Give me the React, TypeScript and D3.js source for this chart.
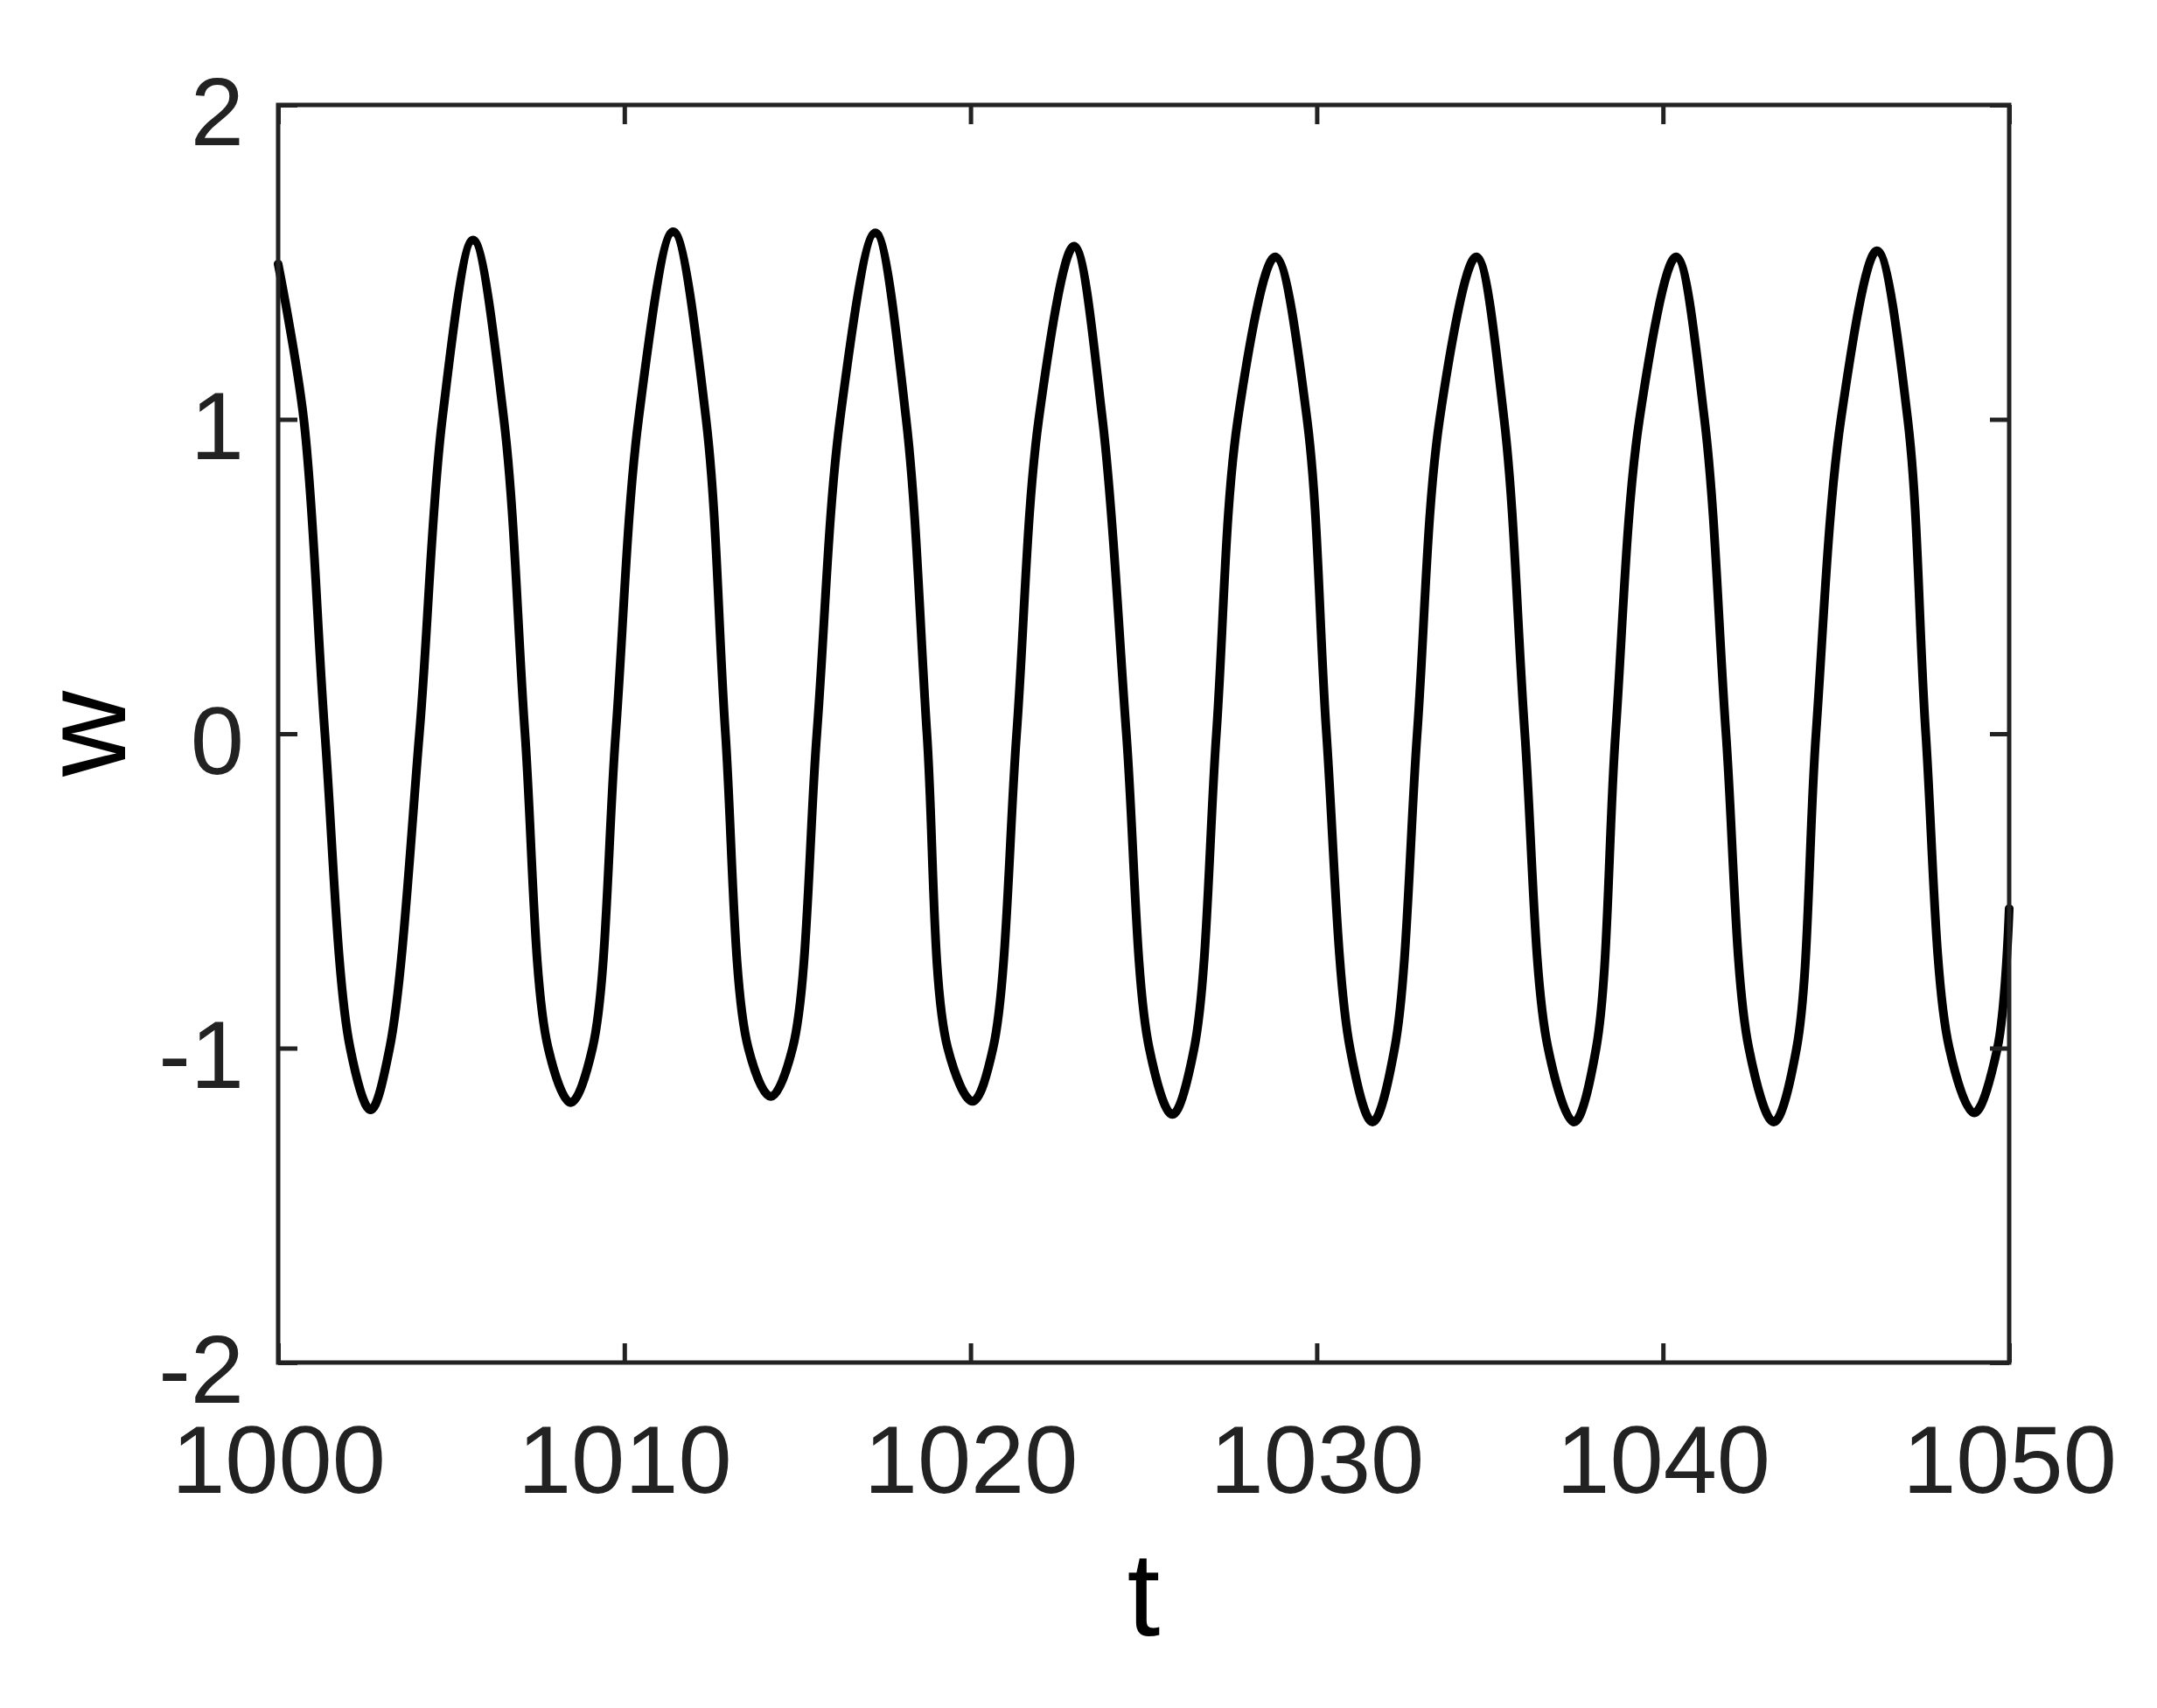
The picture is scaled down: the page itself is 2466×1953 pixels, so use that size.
import * as d3 from "d3";
import { useEffect, useRef } from "react";

// peaks, troughs and the crossings of w = 1, 0, -1
const tValues = [
  1000, 1000.74, 1001.35, 1002.08, 1002.67, 1003.22, 1004.08, 1004.74,
  1005.63, 1006.52, 1007.13, 1007.8, 1008.45, 1009.08, 1009.75, 1010.41,
  1011.41, 1012.36, 1012.92, 1013.58, 1014.23, 1014.86, 1015.56, 1016.23,
  1017.25, 1018.14, 1018.74, 1019.34, 1020.06, 1020.65, 1021.33, 1021.97,
  1022.99, 1023.81, 1024.5, 1025.16, 1025.83, 1026.46, 1027.1, 1027.72,
  1028.8, 1029.72, 1030.28, 1030.96, 1031.61, 1032.25, 1032.9, 1033.55,
  1034.61, 1035.41, 1036.01, 1036.68, 1037.43, 1038.07, 1038.63, 1039.32,
  1040.38, 1041.2, 1041.82, 1042.48, 1043.2, 1043.86, 1044.42, 1045.14,
  1046.18, 1047.07, 1047.59, 1048.27, 1048.99, 1049.66, 1050,
];
const wValues = [
  1.494, 1, 0, -1, -1.196, -1, 0, 1,
  1.57, 1, 0, -1, -1.173, -1, 0, 1,
  1.597, 1, 0, -1, -1.154, -1, 0, 1,
  1.593, 1, 0, -1, -1.169, -1, 0, 1,
  1.551, 1, 0, -1, -1.211, -1, 0, 1,
  1.517, 1, 0, -1, -1.235, -1, 0, 1,
  1.517, 1, 0, -1, -1.235, -1, 0, 1,
  1.517, 1, 0, -1, -1.235, -1, 0, 1,
  1.536, 1, 0, -1, -1.206, -1, -0.556,
];

const xTicks = [1000, 1010, 1020, 1030, 1040, 1050];
const yTicks = [-2, -1, 0, 1, 2];
const xLabel = "t";
const yLabel = "w";

const W = 2466;
const H = 1953;
const margin = { top: 120, right: 169, bottom: 395, left: 318 };
const FONT = "'Liberation Sans', Arial, Helvetica, sans-serif";
const AXIS_COLOR = "#222";

export default function App() {
  const svgRef = useRef<SVGSVGElement | null>(null);

  useEffect(() => {
    const svg = d3.select(svgRef.current);
    svg.selectAll("*").remove();

    const innerW = W - margin.left - margin.right;
    const innerH = H - margin.top - margin.bottom;

    const x = d3.scaleLinear().domain([1000, 1050]).range([margin.left, margin.left + innerW]);
    const y = d3.scaleLinear().domain([-2, 2]).range([margin.top + innerH, margin.top]);

    svg.append("rect").attr("width", W).attr("height", H).attr("fill", "#fff");

    const data = tValues.map((t, i) => ({ t, w: wValues[i] }));

    const line = d3
      .line<{ t: number; w: number }>()
      .x((d) => x(d.t))
      .y((d) => y(d.w))
      .curve(d3.curveCatmullRom.alpha(0.5));

    svg
      .append("path")
      .datum(data)
      .attr("d", line)
      .attr("fill", "none")
      .attr("stroke", "#000")
      .attr("stroke-width", 10)
      .attr("stroke-linejoin", "round")
      .attr("stroke-linecap", "round");

    const label = (d: any) => String(d);

    const styleAxis = (g: any) => {
      g.select(".domain").remove();
      g.selectAll(".tick line").attr("stroke", AXIS_COLOR).attr("stroke-width", 5);
      g.selectAll(".tick text")
        .attr("fill", AXIS_COLOR)
        .style("font-family", FONT)
        .style("font-size", "110px");
    };

    // bottom axis with labels
    const gx = svg
      .append("g")
      .attr("transform", `translate(0,${y(-2)})`)
      .call(d3.axisBottom(x).tickValues(xTicks).tickSize(-22).tickFormat(label));
    styleAxis(gx);
    gx.selectAll(".tick text").attr("y", 149).attr("dy", null);

    // top axis, ticks only
    const gxt = svg
      .append("g")
      .attr("transform", `translate(0,${y(2)})`)
      .call(d3.axisTop(x).tickValues(xTicks).tickSize(-22).tickFormat(() => ""));
    styleAxis(gxt);

    // left axis with labels
    const gy = svg
      .append("g")
      .attr("transform", `translate(${x(1000)},0)`)
      .call(d3.axisLeft(y).tickValues(yTicks).tickSize(-22).tickFormat(label));
    styleAxis(gy);
    gy.selectAll(".tick text").attr("x", -39).attr("dy", null).attr("y", 45);

    // right axis, ticks only
    const gyr = svg
      .append("g")
      .attr("transform", `translate(${x(1050)},0)`)
      .call(d3.axisRight(y).tickValues(yTicks).tickSize(-22).tickFormat(() => ""));
    styleAxis(gyr);

    // box
    svg
      .append("rect")
      .attr("x", x(1000))
      .attr("y", y(2))
      .attr("width", x(1050) - x(1000))
      .attr("height", y(-2) - y(2))
      .attr("fill", "none")
      .attr("stroke", AXIS_COLOR)
      .attr("stroke-width", 5);

    svg
      .append("text")
      .attr("x", (x(1000) + x(1050)) / 2)
      .attr("y", 1870)
      .attr("text-anchor", "middle")
      .attr("fill", "#000")
      .style("font-family", FONT)
      .style("font-size", "136px")
      .text(xLabel);

    svg
      .append("text")
      .attr("transform", `translate(143,${y(0)}) rotate(-90)`)
      .attr("text-anchor", "middle")
      .attr("fill", "#000")
      .style("font-family", FONT)
      .style("font-size", "136px")
      .text(yLabel);
  }, []);

  return (
    <svg
      ref={svgRef}
      width={W}
      height={H}
      style={{ position: "absolute", left: 0, top: 0, display: "block" }}
    />
  );
}
